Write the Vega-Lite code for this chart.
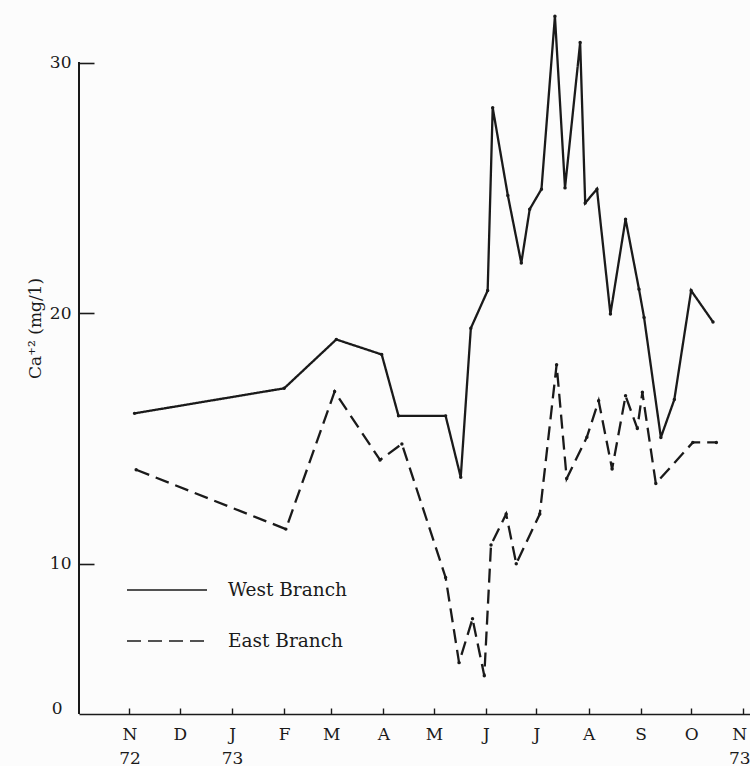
{
  "$schema": "https://vega.github.io/schema/vega-lite/v6.json",
  "width": 671,
  "height": 711,
  "autosize": {"type": "none"},
  "padding": {"left": 79, "top": 3, "right": 0, "bottom": 52},
  "background": "#fcfcfc",
  "config": {
    "view": {"stroke": null},
    "font": "DejaVu Serif"
  },
  "data": {
    "values": [
      {"branch": "West Branch", "date": "1972-11-04", "ca": 16.0},
      {"branch": "West Branch", "date": "1973-02-01", "ca": 17.0},
      {"branch": "West Branch", "date": "1973-03-04", "ca": 18.95},
      {"branch": "West Branch", "date": "1973-03-31", "ca": 18.35},
      {"branch": "West Branch", "date": "1973-04-10", "ca": 15.9},
      {"branch": "West Branch", "date": "1973-05-08", "ca": 15.9},
      {"branch": "West Branch", "date": "1973-05-17", "ca": 13.45},
      {"branch": "West Branch", "date": "1973-05-23", "ca": 19.4},
      {"branch": "West Branch", "date": "1973-06-02", "ca": 20.9},
      {"branch": "West Branch", "date": "1973-06-05", "ca": 28.2},
      {"branch": "West Branch", "date": "1973-06-14", "ca": 24.7},
      {"branch": "West Branch", "date": "1973-06-22", "ca": 22.0},
      {"branch": "West Branch", "date": "1973-06-27", "ca": 24.15},
      {"branch": "West Branch", "date": "1973-07-04", "ca": 24.95},
      {"branch": "West Branch", "date": "1973-07-12", "ca": 31.85},
      {"branch": "West Branch", "date": "1973-07-18", "ca": 25.0},
      {"branch": "West Branch", "date": "1973-07-27", "ca": 30.8},
      {"branch": "West Branch", "date": "1973-07-30", "ca": 24.4},
      {"branch": "West Branch", "date": "1973-08-06", "ca": 24.95},
      {"branch": "West Branch", "date": "1973-08-14", "ca": 19.97},
      {"branch": "West Branch", "date": "1973-08-23", "ca": 23.75},
      {"branch": "West Branch", "date": "1973-08-31", "ca": 20.95},
      {"branch": "West Branch", "date": "1973-09-03", "ca": 19.83},
      {"branch": "West Branch", "date": "1973-09-13", "ca": 15.04},
      {"branch": "West Branch", "date": "1973-09-21", "ca": 16.55},
      {"branch": "West Branch", "date": "1973-10-01", "ca": 20.9},
      {"branch": "West Branch", "date": "1973-10-14", "ca": 19.65},
      {"branch": "East Branch", "date": "1972-11-05", "ca": 13.75},
      {"branch": "East Branch", "date": "1973-02-02", "ca": 11.38},
      {"branch": "East Branch", "date": "1973-03-03", "ca": 16.87},
      {"branch": "East Branch", "date": "1973-03-30", "ca": 14.14},
      {"branch": "East Branch", "date": "1973-04-12", "ca": 14.78},
      {"branch": "East Branch", "date": "1973-05-08", "ca": 9.45},
      {"branch": "East Branch", "date": "1973-05-16", "ca": 6.05},
      {"branch": "East Branch", "date": "1973-05-24", "ca": 7.8},
      {"branch": "East Branch", "date": "1973-05-31", "ca": 5.53},
      {"branch": "East Branch", "date": "1973-06-04", "ca": 10.75},
      {"branch": "East Branch", "date": "1973-06-13", "ca": 11.98},
      {"branch": "East Branch", "date": "1973-06-19", "ca": 10.0},
      {"branch": "East Branch", "date": "1973-07-03", "ca": 11.98},
      {"branch": "East Branch", "date": "1973-07-13", "ca": 17.94},
      {"branch": "East Branch", "date": "1973-07-19", "ca": 13.4},
      {"branch": "East Branch", "date": "1973-07-31", "ca": 15.05},
      {"branch": "East Branch", "date": "1973-08-07", "ca": 16.5},
      {"branch": "East Branch", "date": "1973-08-15", "ca": 13.78},
      {"branch": "East Branch", "date": "1973-08-23", "ca": 16.7},
      {"branch": "East Branch", "date": "1973-08-30", "ca": 15.4},
      {"branch": "East Branch", "date": "1973-09-02", "ca": 16.84},
      {"branch": "East Branch", "date": "1973-09-10", "ca": 13.2},
      {"branch": "East Branch", "date": "1973-10-02", "ca": 14.84},
      {"branch": "East Branch", "date": "1973-10-16", "ca": 14.84}
    ]
  },
  "layer": [
    {
      "mark": {"type": "rule", "color": "#1a1a1a", "strokeWidth": 1.6},
      "encoding": {
        "x": {"datum": {"year": 1972, "month": 10, "date": 2, "utc": true}, "type": "temporal"},
        "y": {"datum": 4, "type": "quantitative"},
        "y2": {"datum": 30}
      }
    },
    {
      "mark": {"type": "line", "color": "#1a1a1a", "strokeWidth": 2.3},
      "encoding": {
        "x": {
          "field": "date",
          "type": "temporal",
          "scale": {
            "type": "utc",
            "domain": [
              {"year": 1972, "month": 10, "date": 2, "utc": true},
              {"year": 1973, "month": 11, "date": 5, "utc": true}
            ]
          },
          "axis": {
            "title": null,
            "grid": false,
            "domainColor": "#1a1a1a",
            "domainWidth": 1.6,
            "tickColor": "#1a1a1a",
            "tickWidth": 1.4,
            "tickSize": -6,
            "tickCount": {"interval": "month", "step": 1},
            "labelFont": "DejaVu Serif",
            "labelFontSize": 17,
            "labelColor": "#1a1a1a",
            "labelPadding": 18,
            "labelLineHeight": 24,
            "labelBaseline": "top",
            "labelFlush": false,
            "labelOverlap": false,
            "labelOffset": {"condition": {"test": "utcyear(datum.value) == 1973 && utcmonth(datum.value) == 10", "value": -4}, "value": 0},
            "labelExpr": "utcmonth(datum.value) == 10 || utcmonth(datum.value) == 0 ? [substring(utcFormat(datum.value, '%b'), 0, 1), utcFormat(datum.value, '%y')] : substring(utcFormat(datum.value, '%b'), 0, 1)"
          }
        },
        "y": {
          "field": "ca",
          "type": "quantitative",
          "scale": {"domain": [4, 32.38], "nice": false, "zero": false},
          "axis": {
            "title": "Ca⁺² (mg/1)",
            "titleFont": "DejaVu Serif",
            "titleFontSize": 17,
            "titleFontWeight": "normal",
            "titleColor": "#1a1a1a",
            "titleX": -44,
            "titleY": 325,
            "titleAlign": "center",
            "titleBaseline": "middle",
            "grid": false,
            "domain": false,
            "values": [4, 10, 20, 30],
            "tickColor": "#1a1a1a",
            "tickWidth": 1.6,
            "tickSize": -15,
            "tickOpacity": {"condition": {"test": "datum.value == 4", "value": 0}, "value": 1},
            "labelFont": "DejaVu Serif",
            "labelFontSize": 17,
            "labelColor": "#1a1a1a",
            "labelPadding": {"condition": {"test": "datum.value == 4", "value": 32}, "value": 23},
            "labelOffset": {"condition": {"test": "datum.value == 4", "value": -6}, "value": 0},
            "labelExpr": "datum.value == 4 ? '0' : datum.label"
          }
        },
        "strokeDash": {
          "field": "branch",
          "type": "nominal",
          "scale": {"domain": ["West Branch", "East Branch"], "range": [[1, 0], [14, 7]]},
          "legend": {
            "title": null,
            "orient": "none",
            "legendX": 47,
            "legendY": 546,
            "padding": 0,
            "symbolType": "stroke",
            "symbolSize": 6400,
            "symbolStrokeWidth": 1.4,
            "symbolStrokeColor": "#1a1a1a",
            "symbolOpacity": 1,
            "labelFont": "DejaVu Serif",
            "labelFontSize": 18.5,
            "labelColor": "#1a1a1a",
            "labelOffset": 20,
            "rowPadding": -27,
            "encode": {
              "symbols": {
                "update": {
                  "stroke": {"value": "#1a1a1a"},
                  "strokeWidth": {"value": 1.4},
                  "opacity": {"value": 1},
                  "fill": {"value": "transparent"}
                }
              }
            }
          }
        }
      }
    },
    {
      "mark": {"type": "point", "filled": true, "size": 12, "color": "#1a1a1a", "opacity": 1},
      "encoding": {
        "x": {"field": "date", "type": "temporal"},
        "y": {"field": "ca", "type": "quantitative"}
      }
    }
  ]
}
